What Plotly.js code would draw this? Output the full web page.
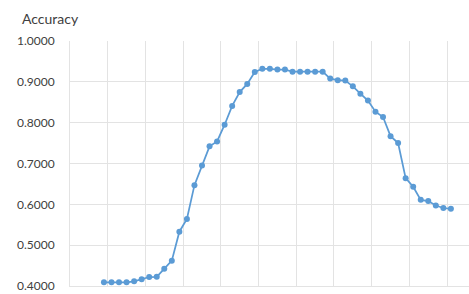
<!DOCTYPE html>
<html>
<head>
<meta charset="utf-8">
<script src="https://cdn.plot.ly/plotly-3.0.1.min.js"></script>
<style>html,body{margin:0;padding:0;background:#fff;}#chart{width:469px;height:294px;}</style>
</head>
<body>
<div id="chart"></div>
<script>
// Category positions (first four categories are empty)
const xIndex = [4,5,6,7,8,9,10,11,12,13,14,15,16,17,18,19,20,21,22,23,24,25,26,27,28,29,30,31,32,33,34,35,36,37,38,39,40,41,42,43,44,45,46,47,48,49,50];
const accuracy = [0.409,0.409,0.409,0.409,0.4115,0.4165,0.422,0.4225,0.442,0.462,
  0.533,0.564,0.647,0.695,0.742,0.754,0.795,0.841,0.875,0.895,
  0.924,0.932,0.932,0.930,0.930,0.925,0.925,0.925,0.925,0.925,
  0.908,0.904,0.903,0.889,0.871,0.854,0.827,0.814,0.767,0.750,
  0.664,0.643,0.611,0.608,0.597,0.591,0.589];
const yTicks = [0.4,0.5,0.6,0.7,0.8,0.9,1.0];

const grid = '#e3e3e3';
const trace = {
  x: xIndex, y: accuracy, type: 'scatter', mode: 'lines+markers',
  line: {color: '#5B9BD5', width: 1.75},
  marker: {color: '#5B9BD5', size: 6},
  hoverinfo: 'none'
};
const layout = {
  width: 469, height: 294,
  margin: {l: 70, r: 0, t: 41, b: 8},
  paper_bgcolor: '#fff', plot_bgcolor: '#fff',
  showlegend: false,
  font: {family: 'Lato, "Open Sans", sans-serif', size: 12, color: '#404040'},
  title: {text: 'Accuracy', xref: 'container', yref: 'container', x: 22/469, xanchor: 'left', y: 1 - 19/294, yanchor: 'middle', font: {family: 'Lato, "Open Sans", sans-serif', size: 14, color: '#404040'}},
  xaxis: {range: [-0.5, 52.4], tick0: -0.5, dtick: 5, showticklabels: false, ticks: '', showgrid: true, gridcolor: grid, gridwidth: 1, zeroline: false, showline: true, linecolor: grid, linewidth: 1, fixedrange: true},
  yaxis: {range: [0.4, 1.0], tickvals: yTicks, tickformat: '.4f', ticks: '', ticklabelstandoff: 12, showgrid: true, gridcolor: grid, gridwidth: 1, zeroline: false, showline: true, linecolor: grid, linewidth: 1, fixedrange: true, tickfont: {size: 12, color: '#404040'}}
};
Plotly.newPlot('chart', [trace], layout, {staticPlot: true, displayModeBar: false});
</script>
</body>
</html>
